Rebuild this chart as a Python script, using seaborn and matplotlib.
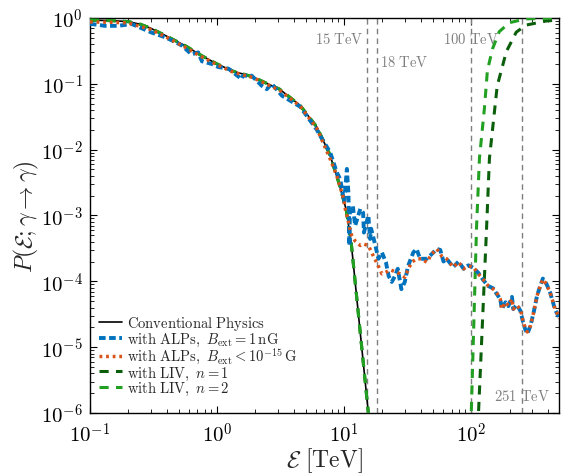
import numpy as np
import pandas as pd
import matplotlib
matplotlib.use("Agg")
import matplotlib.pyplot as plt
from matplotlib.ticker import FuncFormatter, NullFormatter, LogLocator
import seaborn as sns

# ---------------- data ----------------
E_conv = [0.1, 0.15, 0.2, 0.25, 0.3, 0.4, 0.56, 0.75, 1.0, 1.34, 1.9, 2.5, 3.1, 4.5, 6.1,
          7.7, 9.2, 10.4, 11.4, 12.0, 13.0, 14.0, 15.5, 16.5]
P_conv = [0.93, 0.91, 0.88, 0.80, 0.70, 0.53, 0.38, 0.27, 0.20, 0.155, 0.128, 0.10, 0.083,
          0.047, 0.022, 0.0085, 0.0029, 0.0012, 3.6e-4, 1.35e-4, 2.9e-5, 7e-6, 1e-6, 2.5e-7]

E_alp_low = [0.1, 0.15, 0.2, 0.3, 0.4, 0.56, 0.75, 1.0, 1.34, 1.9, 2.5, 3.1, 4.5, 6.1, 7.76,
             8.75, 9.9, 10.2, 10.8, 11.1, 11.5, 12.2, 13.4, 14.1, 15.5, 17.0, 18.6, 19.8,
             21.7, 23, 25.1, 27.5, 30, 31.8, 34, 37.2, 40.7, 44.6, 48.9, 53.6, 58.6, 64, 72,
             79.6, 87, 95, 104, 113.5, 124, 136, 149, 158, 169, 174, 186, 196, 209, 214, 228,
             243, 257, 265, 276, 292, 310, 329, 349, 366, 389, 417, 457, 497]
P_alp_low = [0.87, 0.86, 0.84, 0.67, 0.51, 0.36, 0.26, 0.195, 0.15, 0.125, 0.097, 0.08, 0.046,
             0.021, 0.0072, 0.004, 0.0018, 0.00126, 8e-4, 6.2e-4, 4.9e-4, 4.1e-4, 3.5e-4,
             3.7e-4, 3.5e-4, 2.4e-4, 1.7e-4, 1.3e-4, 1.4e-4, 1.5e-4, 1.4e-4, 1.3e-4, 1.15e-4,
             1.5e-4, 1.95e-4, 2.2e-4, 2.2e-4, 1.95e-4, 2.6e-4, 3.1e-4, 2.4e-4, 2.2e-4, 1.65e-4,
             1.95e-4, 1.55e-4, 1.7e-4, 1.65e-4, 1.3e-4, 1.07e-4, 8.5e-5, 7.6e-5, 6.8e-5,
             5.4e-5, 3.8e-5, 4.8e-5, 4.3e-5, 5.4e-5, 3.8e-5, 4.3e-5, 3.8e-5, 2.4e-5, 2e-5,
             1.7e-5, 2.1e-5, 3.4e-5, 6e-5, 8.5e-5, 1.07e-4, 9.1e-5, 6.8e-5, 3.8e-5, 2.7e-5]

E_alp_1nG = [0.1, 0.103, 0.131, 0.166, 0.213, 0.306, 0.39, 0.47, 0.53, 0.63, 0.71, 0.76, 0.91,
             1.02, 1.23, 1.56, 1.6, 1.87, 2.24, 2.46, 2.69, 3.24, 4.5, 6.1, 6.5, 7.76, 8.75,
             9.3, 10.0, 10.5, 10.8, 11.0, 11.1, 11.7, 12.2, 13.4, 14.1, 14.3, 15.5, 16.0, 16.3,
             17.6, 18.6, 19.8, 21.3, 22.4, 23.7, 25.1, 26.4, 28.2, 30, 31.8, 35, 37.2, 39.5,
             44.6, 48.9, 53.6, 57, 60.5, 64, 72, 79.6, 87, 95, 104, 113.5, 124, 136, 149, 158,
             169, 174, 186, 196, 209, 214, 228, 243, 257, 265, 276, 292, 310, 329, 349, 366,
             389, 417, 457, 497]
P_alp_1nG = [0.80, 0.81, 0.76, 0.76, 0.81, 0.60, 0.51, 0.43, 0.38, 0.28, 0.30, 0.22, 0.20,
             0.18, 0.17, 0.118, 0.133, 0.133, 0.094, 0.083, 0.10, 0.066, 0.045, 0.02, 0.016,
             0.0091, 0.0045, 0.0036, 0.0016, 0.0051, 0.0022, 3.5e-4, 1.26e-3, 1.4e-3, 7e-4,
             1.26e-3, 1.1e-3, 5.5e-4, 1e-3, 4.4e-4, 6.3e-4, 3.5e-4, 2.2e-4, 2.75e-4, 1.95e-4,
             1.2e-4, 9.8e-5, 1.2e-4, 1.55e-4, 7.6e-5, 9.8e-5, 1.7e-4, 2.75e-4, 3.1e-4, 2.2e-4,
             2.2e-4, 2.6e-4, 3.1e-4, 3.0e-4, 2.0e-4, 2.2e-4, 1.65e-4, 2.0e-4, 1.55e-4, 1.75e-4,
             1.6e-4, 1.35e-4, 1.05e-4, 8.5e-5, 7.8e-5, 6.5e-5, 5.4e-5, 3.8e-5, 4.8e-5, 4.2e-5,
             5.8e-5, 3.8e-5, 4.4e-5, 3.6e-5, 2.3e-5, 1.9e-5, 1.6e-5, 2.1e-5, 3.4e-5, 6e-5,
             8.5e-5, 1.1e-4, 9.3e-5, 6.8e-5, 3.7e-5, 2.7e-5]

# LIV: follows the conventional curve, is far below the plot window in between,
# then recovers at high energy
E_liv1 = E_conv + [40.0, 100.0, 114, 132, 139, 160, 189, 226, 270, 389, 497]
P_liv1 = P_conv + [1e-12, 1e-10, 1e-6, 6.5e-4, 7.4e-3, 0.093, 0.31, 0.61, 0.78, 0.90, 0.94]
E_liv2 = E_conv + [40.0, 90.0, 100, 110, 116, 127, 134, 147, 166, 200, 270, 497]
P_liv2 = P_conv + [1e-12, 1e-10, 1e-6, 6.5e-4, 7.4e-3, 0.043, 0.16, 0.34, 0.62, 0.85, 0.97, 1.0]

vlines_E = [15, 18, 100, 251]
vline_labels = [r"$\mathrm{15\ TeV}$", r"$\mathrm{18\ TeV}$", r"$\mathrm{100\ TeV}$", r"$\mathrm{251\ TeV}$"]

labels = [r"$\mathrm{Conventional\ Physics}$",
          r"$\mathrm{with\ ALPs,}\ B_{\rm ext} = 1\,\mathrm{nG}$",
          r"$\mathrm{with\ ALPs,}\ B_{\rm ext} < 10^{-15}\,\mathrm{G}$",
          r"$\mathrm{with\ LIV,}\ n = 1$",
          r"$\mathrm{with\ LIV,}\ n = 2$"]

# ---------------- style ----------------
sns.set_style("ticks")
plt.rcParams.update({
    "mathtext.fontset": "cm",
    "font.family": ["DejaVu Serif"],
    "axes.linewidth": 1.0,
    "xtick.direction": "in", "ytick.direction": "in",
    "xtick.top": True, "ytick.right": True,
    "xtick.minor.visible": True, "ytick.minor.visible": True,
    "xtick.major.size": 5, "ytick.major.size": 5,
    "xtick.minor.size": 2.8, "ytick.minor.size": 2.8,
    "xtick.color": "black", "ytick.color": "black",
    "axes.edgecolor": "black",
})

fig = plt.figure(figsize=(5.61, 4.77), dpi=100)
ax = fig.add_axes([0.1604, 0.1321, 0.836, 0.8281])

c_blue = "#0072BD"
c_orange = "#D95319"
c_dgreen = "#0B5F0B"
c_lgreen = "#22A022"

gray = "#7f7f7f"
for e in vlines_E:
    ax.axvline(e, color=gray, lw=1.0, ls=(0, (4, 3)), zorder=1)

sns.lineplot(x=E_liv1, y=P_liv1, ax=ax, color=c_dgreen, lw=2.2, linestyle=(0, (3, 2.4)),
             estimator=None, sort=False, label=labels[3], zorder=3)
sns.lineplot(x=E_liv2, y=P_liv2, ax=ax, color=c_lgreen, lw=2.2, linestyle=(0, (3, 2.4)),
             estimator=None, sort=False, label=labels[4], zorder=3)
sns.lineplot(x=E_alp_1nG, y=P_alp_1nG, ax=ax, color=c_blue, lw=2.8, linestyle=(0, (1.7, 0.9)),
             estimator=None, sort=False, label=labels[1], zorder=4)
sns.lineplot(x=E_alp_low, y=P_alp_low, ax=ax, color=c_orange, lw=2.5, linestyle=(0, (0.8, 1.1)),
             estimator=None, sort=False, label=labels[2], zorder=5)
sns.lineplot(x=E_conv, y=P_conv, ax=ax, color="black", lw=1.2, linestyle="-",
             estimator=None, sort=False, label=labels[0], zorder=2)

ax.set_xscale("log")
ax.set_yscale("log")
ax.set_xlim(0.1, 490)
ax.set_ylim(1e-6, 1)

fmt = FuncFormatter(lambda v, p: r"$10^{%d}$" % int(round(np.log10(v))))
ax.xaxis.set_major_locator(LogLocator(base=10, numticks=20))
ax.yaxis.set_major_locator(LogLocator(base=10, numticks=20))
ax.xaxis.set_major_formatter(fmt)
ax.yaxis.set_major_formatter(fmt)
ax.xaxis.set_minor_formatter(NullFormatter())
ax.yaxis.set_minor_formatter(NullFormatter())

ax.tick_params(axis="both", which="major", labelsize=15)
ax.tick_params(axis="x", which="major", pad=6)
ax.tick_params(axis="y", which="major", pad=5)
ax.set_xlabel(r"$\mathcal{E}\ [\mathrm{TeV}]$", fontsize=17, labelpad=0)
ax.set_ylabel(r"$P(\mathcal{E};\gamma\to\gamma)$", fontsize=17, labelpad=0)

# vertical line labels
tkw = dict(color=gray, fontsize=10.5, transform=ax.get_xaxis_transform())
ax.text(14.3, 0.947, vline_labels[0], ha="right", va="center", **tkw)
ax.text(19.0, 0.89, vline_labels[1], ha="left", va="center", **tkw)
ax.text(100, 0.947, vline_labels[2], ha="center", va="center", **tkw)
ax.text(251, 0.045, vline_labels[3], ha="center", va="center", **tkw)

handles, labs = ax.get_legend_handles_labels()
order = [labs.index(l) for l in labels]
ax.legend([handles[i] for i in order], [labs[i] for i in order],
          loc="lower left", bbox_to_anchor=(-0.015, 0.0), frameon=False, fontsize=10.5,
          handlelength=1.6, handletextpad=0.3, labelspacing=-0.12, borderaxespad=0.9,
          borderpad=0.2)

fig.savefig("out.png", dpi=100)
